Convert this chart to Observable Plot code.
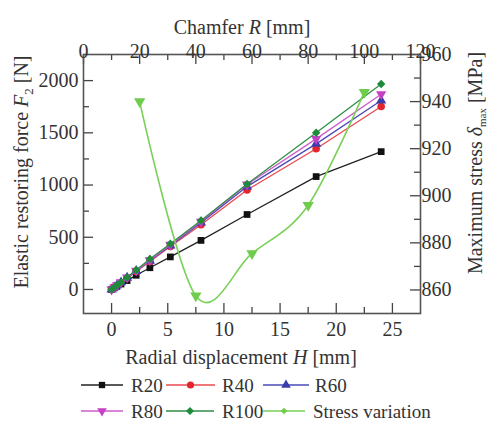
<!DOCTYPE html>
<html><head><meta charset="utf-8">
<script src="https://cdn.jsdelivr.net/npm/d3@7"></script>
<script src="https://cdn.jsdelivr.net/npm/@observablehq/plot@0.6"></script>
<style>
body{margin:0;background:#fff;font-family:"Liberation Serif",serif;}
#wrap{position:relative;width:488px;height:425px;background:#fff;}
#legend{position:absolute;left:0;top:372px;}
</style></head><body><div id="wrap"><div id="chart"></div><svg id="legend" width="488" height="53"></svg></div>
<script>
// Radial displacement H [mm] (bottom axis)
const H = [0, 0.24, 0.48, 0.84, 1.38, 2.19, 3.41, 5.23, 7.96, 12.06, 18.21, 24.0];
// Elastic restoring force F2 [N] (left axis)
const R20  = [0, 15, 30, 52, 85, 136, 208, 312, 470, 718, 1081, 1320];
const R40  = [0, 19, 38, 66, 109, 172, 268, 412, 620, 952, 1348, 1752];
const R60  = [0, 20, 39, 68, 112, 177, 275, 420, 640, 985, 1394, 1809];
const R80  = [0, 20, 40, 69, 114, 180, 280, 428, 650, 1005, 1442, 1870];
const R100 = [0, 20, 40, 70, 116, 186, 292, 437, 660, 1010, 1500, 1968];
// Stress variation: chamfer R [mm] (top axis) vs maximum stress [MPa] (right axis)
const chamferR = [20, 40, 60, 80, 100];
const stressMax = [940, 857.5, 875.5, 896, 944];
// Ticks
const xTicks = [0, 5, 10, 15, 20, 25];
const xMinor = [2.5, 7.5, 12.5, 17.5, 22.5];
const yTicks = [0, 500, 1000, 1500, 2000];
const yMinor = [250, 750, 1250, 1750];
const topTicks = [0, 20, 40, 60, 80, 100, 120];
const topMinor = [10, 30, 50, 70, 90, 110];
const rightTicks = [860, 880, 900, 920, 940, 960];
const rightMinor = [870, 890, 910, 930, 950];
const seriesNames = ["R20", "R40", "R60", "R80", "R100", "Stress variation"];
const seriesColors = ["#111111", "#e3262e", "#3c3cab", "#c640c6", "#1e8a3a", "#6fcc4c"];
const lineColors = ["#222222", "#e84a50", "#4a4ab8", "#cc5ccc", "#2e8f48", "#79d058"];
const symbols = ["square", "circle", "triangle", "triangle", "diamond2", "triangle"];
const rotations = [0, 0, 0, 180, 0, 180];

const W = 488, HT = 372, mL = 83, mR = 68, mT = 54, mB = 59;
const plotW = W - mL - mR, plotH = HT - mT - mB;
const xDomain = [-2.5, 27.5], yDomain = [-230, 2250];
// secondary axes mapped onto primary scales
const xTop = d3.scaleLinear([0, 120], xDomain);
const yRight = d3.scaleLinear([850, 960], yDomain);

const F = [R20, R40, R60, R80, R100];
const marks = [];
F.forEach((vals, k) => {
  const rows = H.map((h, i) => ({h, f: vals[i]}));
  marks.push(Plot.line(rows, {x: "h", y: "f", stroke: lineColors[k], strokeWidth: 1.3}));
  marks.push(Plot.dot(rows, {x: "h", y: "f", symbol: symbols[k], rotate: rotations[k], fill: seriesColors[k], stroke: "none", r: 3.8}));
});
const sRows = chamferR.map((r, i) => ({r, s: stressMax[i]}));
marks.push(Plot.line(sRows, {x: d => xTop(d.r), y: d => yRight(d.s), curve: "cardinal", tension: 0, stroke: lineColors[5], strokeWidth: 1.6}));
marks.push(Plot.dot(sRows, {x: d => xTop(d.r), y: d => yRight(d.s), symbol: "triangle", rotate: 180, fill: seriesColors[5], r: 4.2}));

const tc = "#444";
// inward ticks
marks.push(Plot.ruleX(xTicks, {x: d => d, insetTop: plotH - 10, stroke: tc, strokeWidth: 1.3}));
marks.push(Plot.ruleX(xMinor, {x: d => d, insetTop: plotH - 6, stroke: tc, strokeWidth: 1.3}));
marks.push(Plot.ruleX(topTicks, {x: d => xTop(d), insetBottom: plotH - 10, stroke: tc, strokeWidth: 1.3}));
marks.push(Plot.ruleX(topMinor, {x: d => xTop(d), insetBottom: plotH - 6, stroke: tc, strokeWidth: 1.3}));
marks.push(Plot.ruleY(yTicks, {y: d => d, insetRight: plotW - 10, stroke: tc, strokeWidth: 1.3}));
marks.push(Plot.ruleY(yMinor, {y: d => d, insetRight: plotW - 6, stroke: tc, strokeWidth: 1.3}));
marks.push(Plot.ruleY(rightTicks, {y: d => yRight(d), insetLeft: plotW - 10, stroke: tc, strokeWidth: 1.3}));
marks.push(Plot.ruleY(rightMinor, {y: d => yRight(d), insetLeft: plotW - 6, stroke: tc, strokeWidth: 1.3}));
marks.push(Plot.frame({stroke: "#555", strokeWidth: 1.6}));

const fs = 20, txt = "#333";
marks.push(Plot.text(xTicks, {x: d => d, text: d => String(d), frameAnchor: "bottom", dy: 22, fontSize: fs, fill: txt}));
marks.push(Plot.text(topTicks, {x: d => xTop(d), text: d => String(d), frameAnchor: "top", dy: -11, fontSize: fs, fill: txt}));
marks.push(Plot.text(yTicks, {y: d => d, text: d => String(d), frameAnchor: "left", textAnchor: "end", dx: -5, fontSize: fs, fill: txt}));
marks.push(Plot.text(rightTicks, {y: d => yRight(d), text: d => String(d), frameAnchor: "right", textAnchor: "start", dx: 1, fontSize: fs, fill: txt}));
// axis titles
marks.push(Plot.text(["Chamfer R [mm]"], {frameAnchor: "top", textAnchor: "middle", dx: -10, dy: -35, fontSize: fs, fill: txt}));
marks.push(Plot.text(["Radial displacement H [mm]"], {frameAnchor: "bottom", textAnchor: "middle", dx: -11, dy: 50, fontSize: fs, fill: txt}));
marks.push(Plot.text(["Elastic restoring force F2 [N]"], {frameAnchor: "left", textAnchor: "middle", rotate: -90, dx: -62, dy: -12, fontSize: fs, fill: txt}));
marks.push(Plot.text(["Maximum stress δmax [MPa]"], {frameAnchor: "right", textAnchor: "middle", rotate: -90, dx: 55, dy: -21, fontSize: fs, fill: txt}));

const chart = Plot.plot({
  width: W, height: HT,
  marginLeft: mL, marginRight: mR, marginTop: mT, marginBottom: mB,
  x: {domain: xDomain, axis: null},
  y: {domain: yDomain, axis: null},
  style: {fontFamily: "Liberation Serif, serif", background: "white"},
  marks
});
document.getElementById("chart").appendChild(chart);

// rich text for axis titles
const rich = {
  "Chamfer R [mm]": 'Chamfer <tspan font-style="italic">R</tspan> [mm]',
  "Radial displacement H [mm]": 'Radial displacement <tspan font-style="italic">H</tspan> [mm]',
  "Elastic restoring force F2 [N]": 'Elastic restoring force <tspan font-style="italic">F</tspan><tspan dy="5" font-size="13">2</tspan><tspan dy="-5"> [N]</tspan>',
  "Maximum stress δmax [MPa]": 'Maximum stress <tspan font-style="italic">δ</tspan><tspan dy="4" font-size="11">max</tspan><tspan dy="-4"> [MPa]</tspan>'
};
d3.select(chart).selectAll("text").each(function() {
  const t = this.textContent;
  if (rich[t]) this.innerHTML = rich[t];
});

// legend
const leg = d3.select("#legend");
const items = [
  {k: 0, x1: 81, x2: 123, tx: 131, y: 13},
  {k: 1, x1: 166, x2: 215, tx: 222, y: 13},
  {k: 2, x1: 263, x2: 309, tx: 315, y: 13},
  {k: 3, x1: 81, x2: 123, tx: 131, y: 39},
  {k: 4, x1: 166, x2: 214, tx: 222, y: 39},
  {k: 5, x1: 263, x2: 305, tx: 313, y: 39}
];
const symMap = {square: d3.symbolSquare, circle: d3.symbolCircle, triangle: d3.symbolTriangle, diamond2: d3.symbolDiamond2};
items.forEach(it => {
  leg.append("line").attr("x1", it.x1).attr("x2", it.x2).attr("y1", it.y).attr("y2", it.y)
    .attr("stroke", lineColors[it.k]).attr("stroke-width", 1.5);
  const sym = it.k === 5 ? d3.symbolDiamond2 : symMap[symbols[it.k]];
  leg.append("path").attr("d", d3.symbol(sym, it.k === 5 ? 28 : 40)())
    .attr("transform", `translate(${(it.x1 + it.x2) / 2},${it.y}) rotate(${it.k === 5 ? 0 : rotations[it.k]})`)
    .attr("fill", seriesColors[it.k]);
  leg.append("text").attr("x", it.tx).attr("y", it.y).attr("dy", "0.35em")
    .attr("font-family", "Liberation Serif, serif").attr("font-size", 19).attr("fill", txt)
    .text(seriesNames[it.k]);
});
</script></body></html>
